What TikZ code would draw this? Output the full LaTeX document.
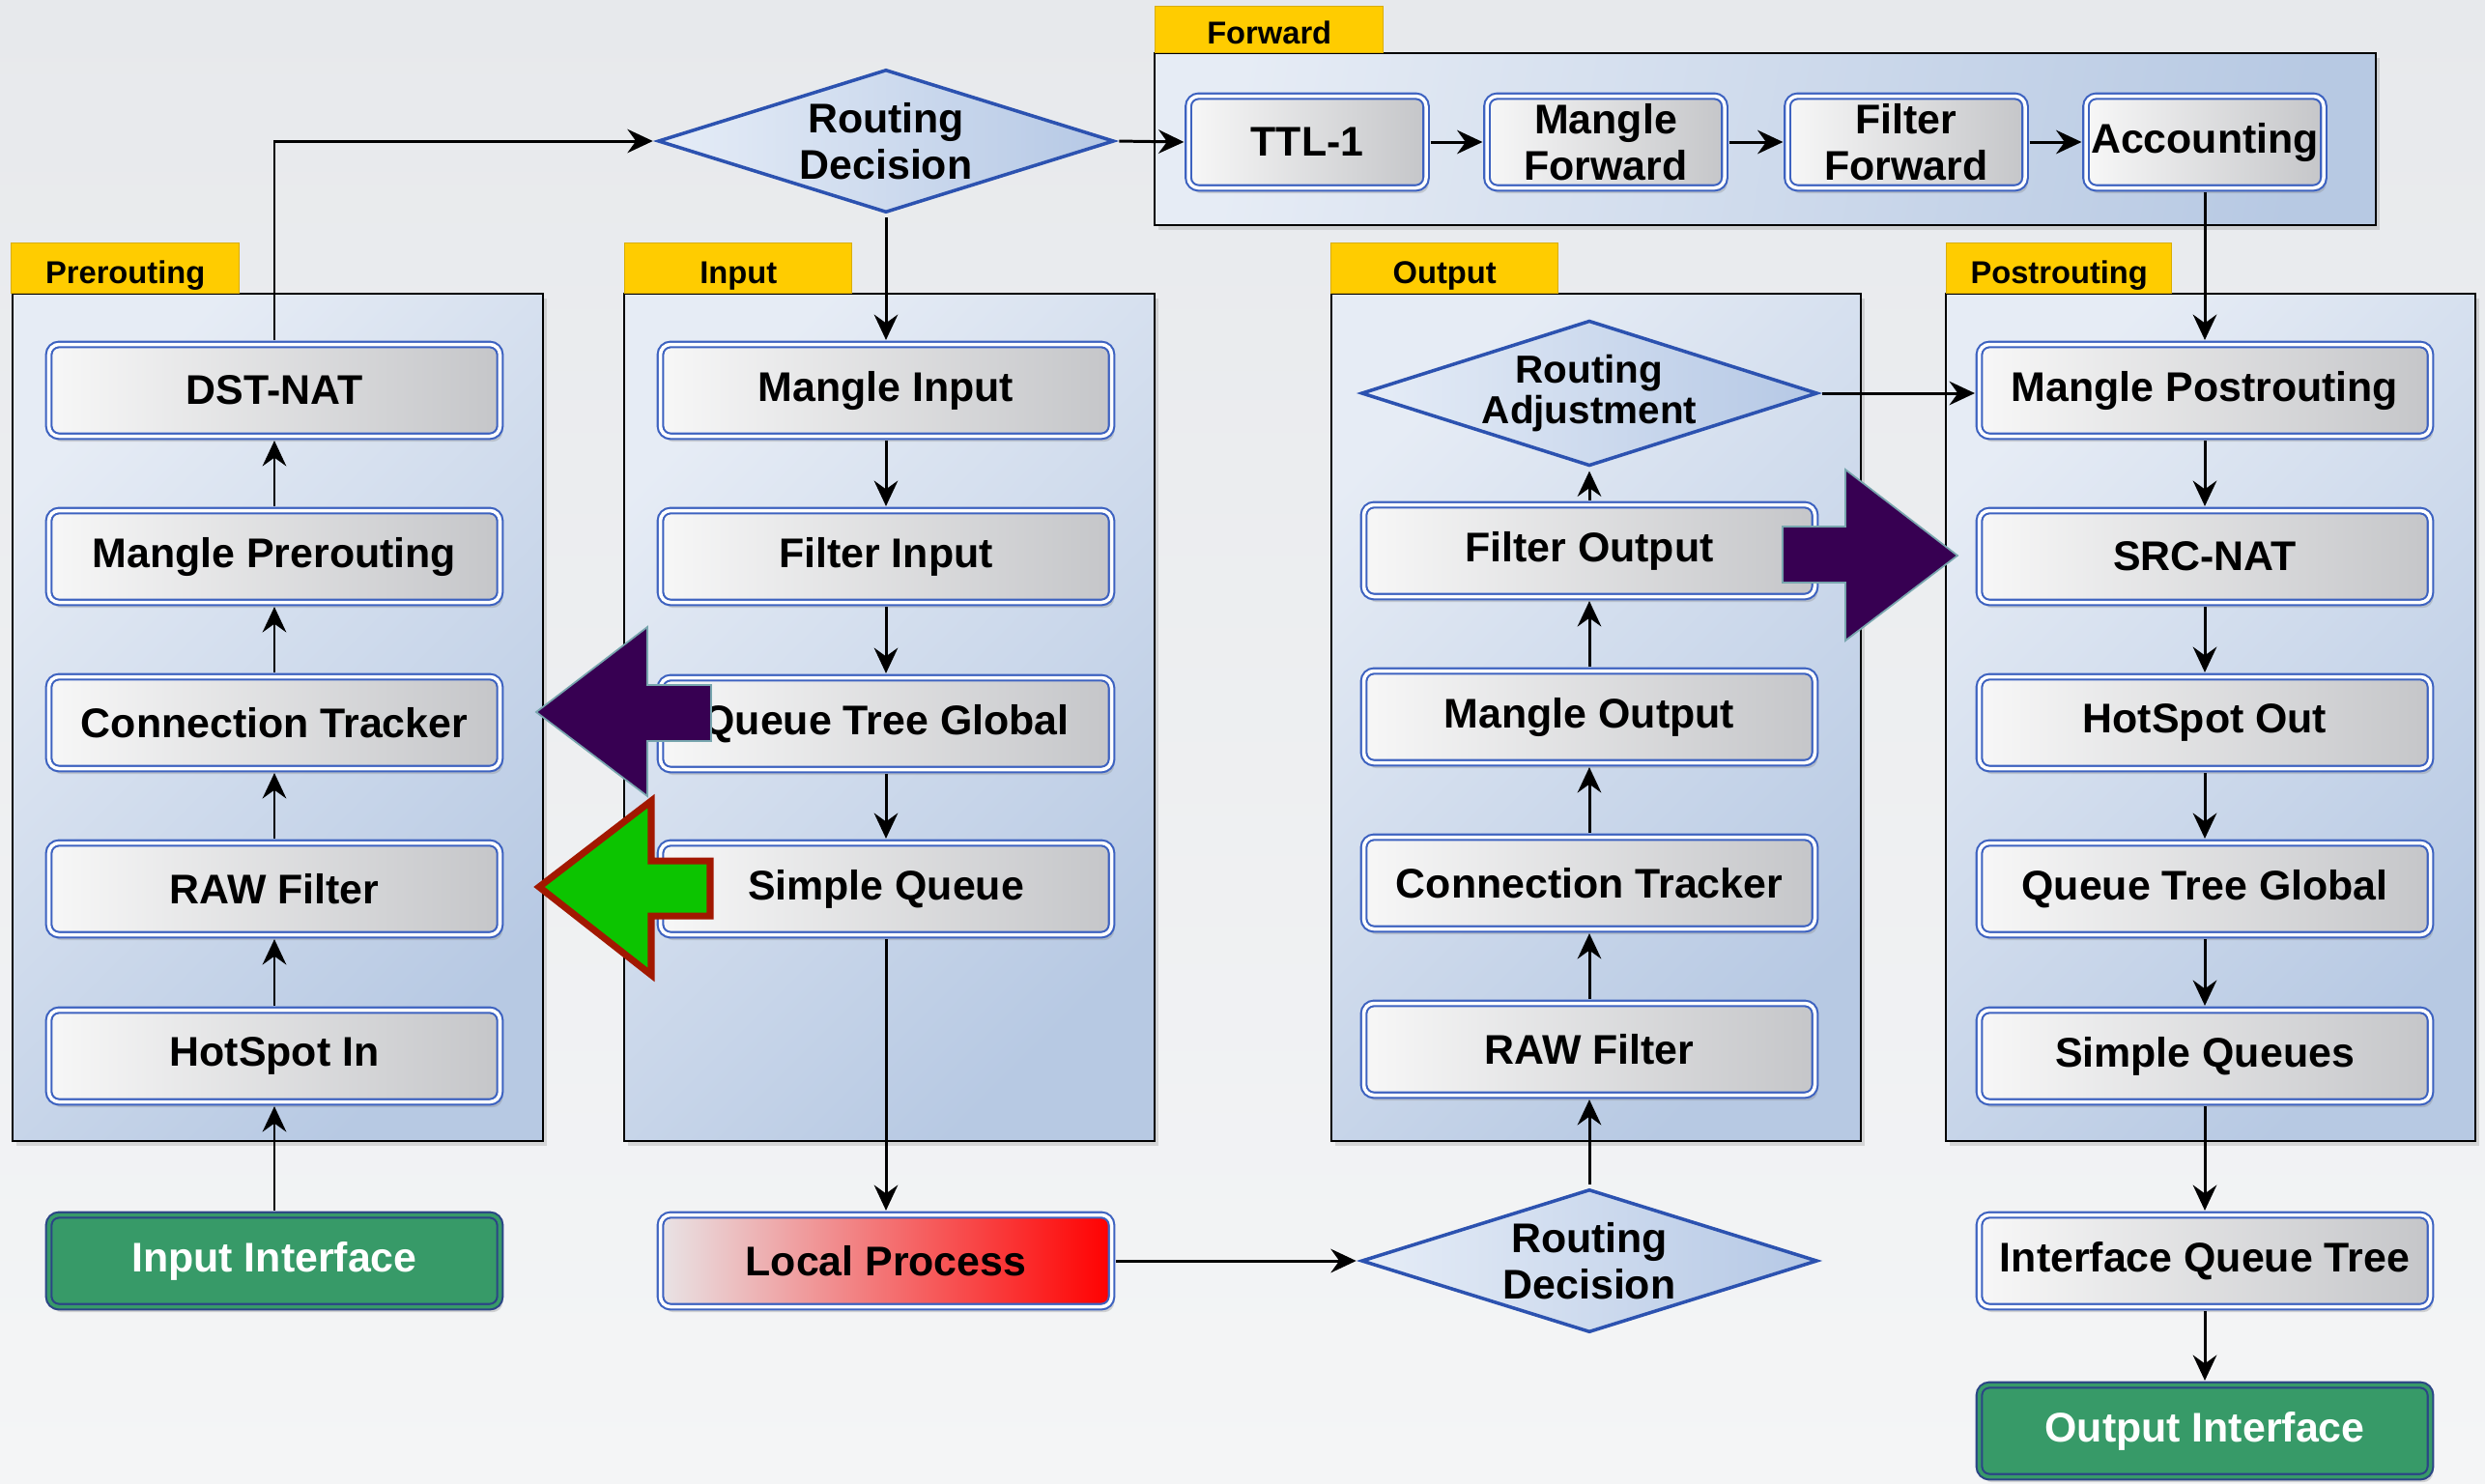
\documentclass[tikz,border=0pt]{standalone}
\usepackage{fontspec}
\setmainfont{Liberation Sans}
\usepackage{tikz}
\usetikzlibrary{arrows.meta, shapes.geometric, shadows, calc, positioning}

% colours
\definecolor{bgtop}{HTML}{E7E9EC}
\definecolor{bgbot}{HTML}{F4F5F6}
\definecolor{panelA}{HTML}{E6ECF5}
\definecolor{panelB}{HTML}{B7C9E3}
\definecolor{boxA}{HTML}{F7F7F7}
\definecolor{boxB}{HTML}{C5C6C9}
\definecolor{boxline}{HTML}{3D62C0}
\definecolor{diamA}{HTML}{E6EDF7}
\definecolor{diamB}{HTML}{B5C8E5}
\definecolor{diamline}{HTML}{2C52B0}
\definecolor{tabyellow}{HTML}{FFCC00}
\definecolor{ifgreen}{HTML}{379A68}
\definecolor{localA}{HTML}{E8E4E6}
\definecolor{localB}{HTML}{FF0000}
\definecolor{bigpurple}{HTML}{370052}
\definecolor{bigedge}{HTML}{78A6AE}
\definecolor{biggreen}{HTML}{0CC400}
\definecolor{bigred}{HTML}{A21800}

\tikzset{
  chainbox/.style={rectangle, rounded corners=3pt, draw=boxline, double=white,
    double distance=1pt, line width=0.6pt, left color=boxA, right color=boxB,
    minimum width=4.67cm, minimum height=0.95cm, inner sep=2pt,
    font=\fontsize{12.2}{13.5}\selectfont\bfseries,
    drop shadow={opacity=0.3, shadow xshift=0.8pt, shadow yshift=-1.6pt}},
  fwdbox/.style={chainbox, minimum width=2.46cm, inner sep=1pt, align=center},
  ifbox/.style={chainbox, left color=ifgreen, right color=ifgreen, text=white,
    draw=boxline!70!black, double=ifgreen},
  localbox/.style={chainbox, left color=localA, right color=localB},
  decision/.style={diamond, aspect=3.1, draw=diamline, line width=1pt,
    left color=diamA, right color=diamB, inner sep=0pt, align=center,
    minimum width=4.72cm, minimum height=1.48cm,
    font=\fontsize{12.2}{13.5}\selectfont\bfseries},
  panel/.style={draw=black, line width=0.6pt, top color=panelA, bottom color=panelB,
    shading angle=45, drop shadow={opacity=0.25, shadow xshift=1pt, shadow yshift=-1.5pt}},
  tab/.style={rectangle, draw=tabyellow!85!black, line width=0.4pt, fill=tabyellow,
    minimum width=2.36cm, minimum height=0.52cm, anchor=south west, inner sep=0pt,
    text height=9pt, text depth=0pt,
    font=\fontsize{9.3}{10}\selectfont\bfseries},
  conn/.style={->, line width=0.85pt, shorten >=1pt, shorten <=1pt},
  >={Stealth[length=7.5pt, width=7pt, inset=2.5pt]}
}

\begin{document}
\begin{tikzpicture}
        % Background
        \fill[top color=bgtop, bottom color=bgbot] (0,0) rectangle (25.72,-15.35);
        \useasboundingbox (0,0) rectangle (25.72,-15.35);

        % Chain panels with their tabs
        \draw[panel] (0.13,-3.04) rectangle (5.62,-11.81);
        \node[tab] (pretab) at (0.11,-3.04) {Prerouting};
        \draw[panel] (6.46,-3.04) rectangle (11.95,-11.81);
        \node[tab, minimum width=2.35cm] (intab) at (6.46,-3.04) {Input};
        \draw[panel] (13.78,-3.04) rectangle (19.26,-11.81);
        \node[tab, minimum width=2.35cm] (outtab) at (13.77,-3.04) {Output};
        \draw[panel] (20.14,-3.04) rectangle (25.62,-11.81);
        \node[tab, minimum width=2.33cm] (posttab) at (20.14,-3.04) {Postrouting};
        \draw[panel, shading angle=80] (11.95,-0.55) rectangle (24.59,-2.33);
        \node[tab, minimum height=0.48cm, text height=8.5pt] (fwdtab) at (11.95,-0.55) {Forward};

        % Prerouting
        \node[chainbox] (dstnat) at (2.84,-4.04) {DST-NAT};
        \node[chainbox] (mangpre) at (2.84,-5.76) {Mangle Prerouting};
        \node[chainbox] (conntrpre) at (2.84,-7.48) {Connection Tracker};
        \node[chainbox] (rawpre) at (2.84,-9.20) {RAW Filter};
        \node[chainbox] (hotin) at (2.84,-10.93) {HotSpot In};
        \node[ifbox] (inif) at (2.84,-13.05) {Input Interface};

        % Input
        \node[decision] (rdin) at (9.17,-1.46) {Routing\\Decision};
        \node[chainbox] (mangin) at (9.17,-4.04) {Mangle Input};
        \node[chainbox] (filtin) at (9.17,-5.76) {Filter Input};
        \node[chainbox] (qtgin) at (9.17,-7.49) {Queue Tree Global};
        \node[chainbox] (sqin) at (9.17,-9.20) {Simple Queue};
        \node[localbox] (local) at (9.17,-13.05) {Local Process};

        % Forward
        \node[fwdbox] (ttl) at (13.53,-1.47) {TTL-1};
        \node[fwdbox] (mangfwd) at (16.62,-1.47) {Mangle\\Forward};
        \node[fwdbox] (filtfwd) at (19.73,-1.47) {Filter\\Forward};
        \node[fwdbox] (acct) at (22.82,-1.47) {Accounting};

        % Output
        \node[decision, font=\fontsize{11.5}{11.7}\selectfont\bfseries] (radj) at (16.45,-4.07) {Routing\\Adjustment};
        \node[chainbox] (filtout) at (16.45,-5.70) {Filter Output};
        \node[chainbox] (mangout) at (16.45,-7.42) {Mangle Output};
        \node[chainbox] (conntrout) at (16.45,-9.14) {Connection Tracker};
        \node[chainbox] (rawout) at (16.45,-10.86) {RAW Filter};
        \node[decision] (rdout) at (16.45,-13.05) {Routing\\Decision};

        % Postrouting
        \node[chainbox] (mangpost) at (22.82,-4.04) {Mangle Postrouting};
        \node[chainbox] (srcnat) at (22.82,-5.76) {SRC-NAT};
        \node[chainbox] (hotout) at (22.82,-7.48) {HotSpot Out};
        \node[chainbox] (qtgpost) at (22.82,-9.20) {Queue Tree Global};
        \node[chainbox] (sqpost) at (22.82,-10.93) {Simple Queues};
        \node[chainbox] (ifqt) at (22.82,-13.05) {Interface Queue Tree};
        \node[ifbox] (outif) at (22.82,-14.81) {Output Interface};

        % Packet flow
        \draw[conn] (inif) -- (hotin);
        \draw[conn] (hotin) -- (rawpre);
        \draw[conn] (rawpre) -- (conntrpre);
        \draw[conn] (conntrpre) -- (mangpre);
        \draw[conn] (mangpre) -- (dstnat);
        \draw[conn] (dstnat.north) |- (rdin.west);
        \draw[conn] (rdin.east) -- (ttl.west);
        \draw[conn] (ttl) -- (mangfwd);
        \draw[conn] (mangfwd) -- (filtfwd);
        \draw[conn] (filtfwd) -- (acct);
        \draw[conn] (acct) -- (mangpost);
        \draw[conn] (rdin) -- (mangin);
        \draw[conn] (mangin) -- (filtin);
        \draw[conn] (filtin) -- (qtgin);
        \draw[conn] (qtgin) -- (sqin);
        \draw[conn] (sqin) -- (local);
        \draw[conn] (local) -- (rdout);
        \draw[conn] (rdout) -- (rawout);
        \draw[conn] (rawout) -- (conntrout);
        \draw[conn] (conntrout) -- (mangout);
        \draw[conn] (mangout) -- (filtout);
        \draw[conn] (filtout) -- (radj);
        \draw[conn] (radj.east) -- (radj.east -| mangpost.west);
        \draw[conn] (mangpost) -- (srcnat);
        \draw[conn] (srcnat) -- (hotout);
        \draw[conn] (hotout) -- (qtgpost);
        \draw[conn] (qtgpost) -- (sqpost);
        \draw[conn] (sqpost) -- (ifqt);
        \draw[conn] (ifqt) -- (outif);

        % Big block arrows
        \filldraw[fill=bigpurple, draw=bigedge, line width=0.5pt]
          (5.55,-7.37) -- (6.70,-6.49) -- (6.70,-7.09) -- (7.36,-7.09)
          -- (7.36,-7.67) -- (6.70,-7.67) -- (6.70,-8.24) -- cycle;
        \filldraw[fill=biggreen, draw=bigred, line width=2pt]
          (5.58,-9.18) -- (6.74,-8.29) -- (6.74,-8.91) -- (7.35,-8.91)
          -- (7.35,-9.48) -- (6.74,-9.48) -- (6.74,-10.09) -- cycle;
        \filldraw[fill=bigpurple, draw=bigedge, line width=0.5pt]
          (18.45,-5.45) -- (19.10,-5.45) -- (19.10,-4.86) -- (20.26,-5.75)
          -- (19.10,-6.63) -- (19.10,-6.03) -- (18.45,-6.03) -- cycle;

    \end{tikzpicture}
\end{document}
